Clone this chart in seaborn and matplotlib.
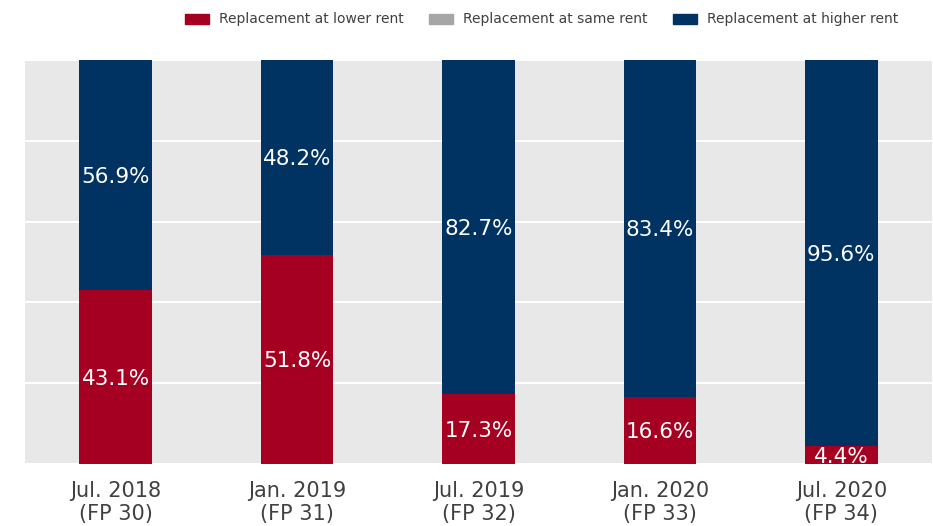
import pandas as pd
import seaborn as sns
from matplotlib import pyplot as plt
from matplotlib.patches import Patch

periods = ['Jul. 2018\n(FP 30)', 'Jan. 2019\n(FP 31)', 'Jul. 2019\n(FP 32)',
           'Jan. 2020\n(FP 33)', 'Jul. 2020\n(FP 34)']
lower_rent = [43.1, 51.8, 17.3, 16.6, 4.4]
same_rent = [0.0, 0.0, 0.0, 0.0, 0.0]
higher_rent = [56.9, 48.2, 82.7, 83.4, 95.6]

RED = '#A50021'
GREY = '#A6A6A6'
NAVY = '#003262'

df = pd.DataFrame({'period': periods, 'lower': lower_rent,
                   'same': same_rent, 'higher': higher_rent})
df['lower_same'] = df['lower'] + df['same']
df['total'] = df['lower_same'] + df['higher']

sns.set_style('white')
plt.rcParams['font.family'] = ['DejaVu Sans']

fig = plt.figure(figsize=(9.33, 5.26), dpi=100)
ax = fig.add_axes([0.0268, 0.1179, 0.9722, 0.7681])
ax.set_facecolor('#E8E8E8')

# stacked bars drawn as overlapping cumulative totals
for col, c in [('total', NAVY), ('lower_same', GREY), ('lower', RED)]:
    sns.barplot(data=df, x='period', y=col, color=c, width=0.4,
                saturation=1, linewidth=0, ax=ax, zorder=3)

for i, row in df.iterrows():
    ax.text(i, row['lower'] / 2, f"{row['lower']:.1f}%", ha='center',
            va='center_baseline', color='white', fontsize=15.5, zorder=4)
    ax.text(i, row['lower_same'] + row['higher'] / 2, f"{row['higher']:.1f}%",
            ha='center', va='center_baseline', color='white', fontsize=15.5,
            zorder=4)

ax.set_ylim(0, 100)
ax.set_xlim(-0.5, 4.5)
ax.set_yticks([0, 20, 40, 60, 80, 100])
ax.set_yticklabels([])
ax.yaxis.grid(True, color='white', lw=1.5, zorder=0)
ax.tick_params(axis='x', length=0, labelsize=15, labelcolor='#404040', pad=12)
ax.tick_params(axis='y', length=0)
ax.set_xlabel('')
ax.set_ylabel('')
sns.despine(ax=ax, left=True, bottom=True)

handles = [Patch(color=RED, label='Replacement at lower rent'),
           Patch(color=GREY, label='Replacement at same rent'),
           Patch(color=NAVY, label='Replacement at higher rent')]
fig.legend(handles=handles, loc='upper right', bbox_to_anchor=(0.976, 1.0),
           ncol=3, frameon=False, fontsize=10, labelcolor='#404040',
           handlelength=1.75, handleheight=0.7, columnspacing=1.8,
           handletextpad=0.72)

fig.savefig('out.png', dpi=100)
